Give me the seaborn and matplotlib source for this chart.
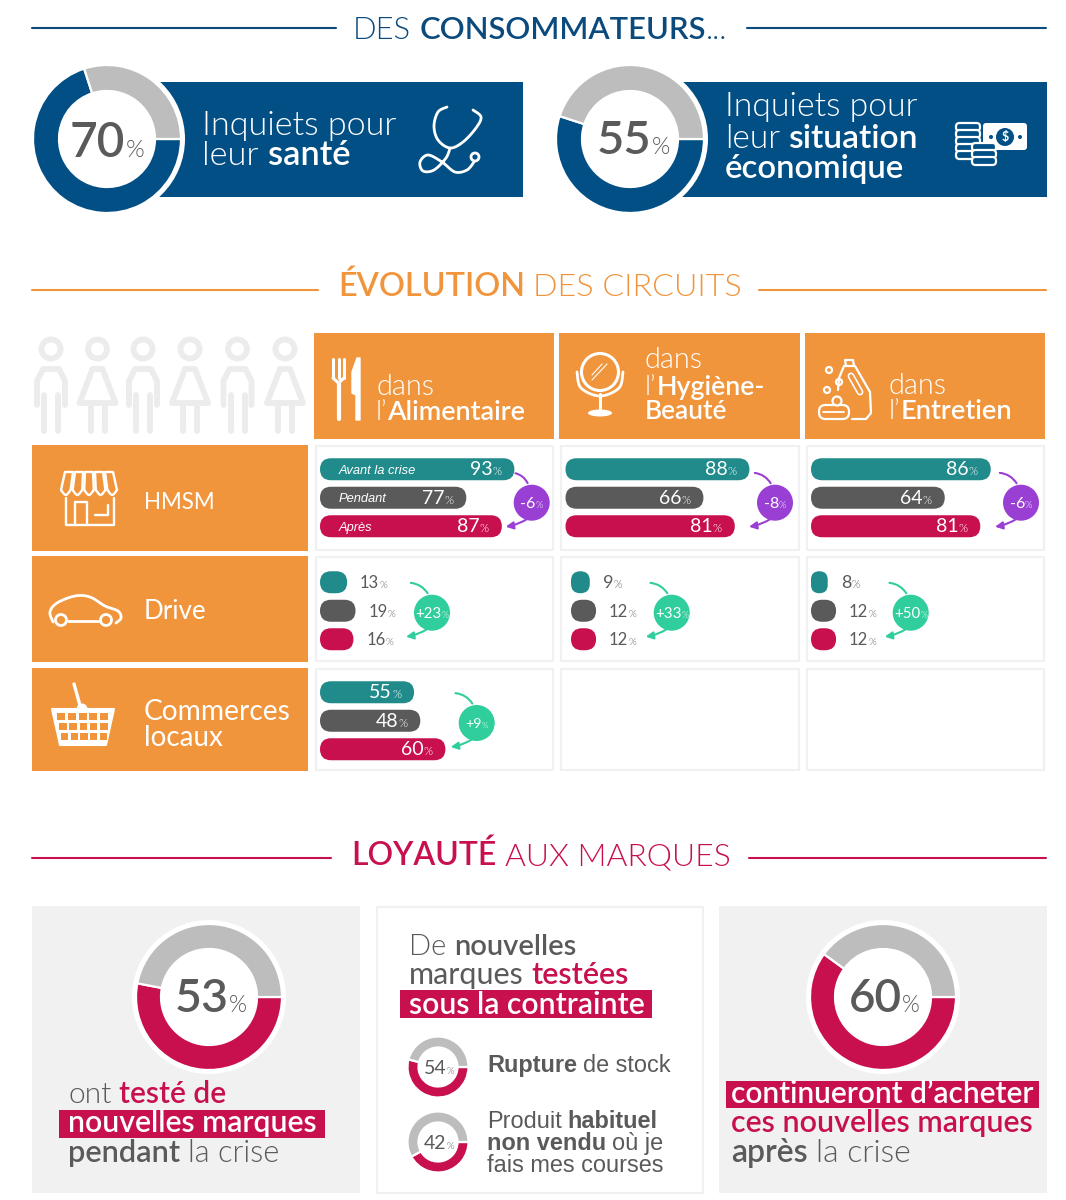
import os

import matplotlib
matplotlib.use("Agg")
import matplotlib.pyplot as plt
import numpy as np
import seaborn as sns
from matplotlib import font_manager
from matplotlib.patches import Circle, Ellipse, FancyArrowPatch, FancyBboxPatch, Polygon, Rectangle

W, H = 1066, 1200
FONT = "Lato"
ARIAL = "Liberation Sans"

BLUE = "#024f85"
TITLE_BLUE = "#0b4a7c"
ORANGE = "#f0953c"
CRIMSON = "#c8104e"
TEAL = "#218b8b"
DARK = "#5a5a5a"
GREY = "#bdbdbd"
PURPLE = "#9a3fd3"
GREEN = "#2fce9c"
PANEL = "#f1f1f1"
BORDER = "#f1f1f3"

periods = ["Avant la crise", "Pendant", "Après"]
period_colors = [TEAL, DARK, CRIMSON]

# valeurs affichees
hmsm_values = [[93, 77, 87], [88, 66, 81], [86, 64, 81]]
drive_values = [[13, 19, 16], [9, 12, 12], [8, 12, 12]]
local_values = [55, 48, 60]
# longueurs des barres (pas toujours egales au libelle)
hmsm_lengths = [[93, 70, 87], [88, 66, 81], [86, 64, 81]]
drive_lengths = [[13, 17, 16], [9, 12, 12], [8, 12, 12]]
local_lengths = [45, 48, 60]

hmsm_evolution = ["-6", "-8", "-6"]
drive_evolution = ["+23", "+33", "+50"]
local_evolution = ["+9"]

worried_health = 70
worried_money = 55
tested_brands = 53
stock_out = 54
not_sold = 42
keep_buying = 60

sns.set_theme(style="white")
plt.rcParams["font.family"] = [FONT, "DejaVu Sans"]

fig = plt.figure(figsize=(W / 100, H / 100), dpi=100, facecolor="white")


def find_face(name):
    for f in font_manager.findSystemFonts() + [e.fname for e in font_manager.fontManager.ttflist]:
        if os.path.basename(f).lower().startswith(name):
            return f
    return None


LIGHT_FACE = find_face("lato-light.")
MEDIUM_FACE = find_face("lato-semibold.") or find_face("lato-medium.")


def font_kw(weight, family, size):
    # la graisse light de matplotlib tombe sur Hairline, on passe par le fichier
    if family == FONT and weight == "light":
        if LIGHT_FACE:
            return {"fontproperties": font_manager.FontProperties(fname=LIGHT_FACE, size=size)}
        weight = "normal"
    if family == FONT and weight == "bold" and MEDIUM_FACE:
        return {"fontproperties": font_manager.FontProperties(fname=MEDIUM_FACE, size=size)}
    return {"fontsize": size, "fontweight": weight, "family": family}


def pixel_axes(zorder):
    ax = fig.add_axes([0, 0, 1, 1], zorder=zorder)
    ax.set_xlim(0, W)
    ax.set_ylim(H, 0)
    ax.axis("off")
    ax.patch.set_alpha(0)
    return ax


bg = pixel_axes(0)
fg = pixel_axes(5)
renderer = fig.canvas.get_renderer()


def text_width(txt, size, weight, family):
    t = fg.text(0, 0, txt, **font_kw(weight, family, size))
    width = t.get_window_extent(renderer).width
    t.remove()
    return width


def runs(x, y, parts, size, ha="left", fit=None, family=FONT):
    # texte a plusieurs graisses sur une meme ligne de base
    def total(s):
        out = 0
        for p in parts:
            scale = p[3] if len(p) > 3 else 1
            if p[0] == " ":
                out += s * 100 / 72 * 0.26
            else:
                out += text_width(p[0], s * scale, p[1], family)
        return out

    if fit is not None:
        size = size * fit / total(size)
    width = total(size)
    if ha == "center":
        x = x - width / 2
    elif ha == "right":
        x = x - width
    for p in parts:
        scale = p[3] if len(p) > 3 else 1
        if p[0] == " ":
            x += size * 100 / 72 * 0.26
            continue
        fg.text(x, y, p[0], color=p[2], va="baseline", ha="left", **font_kw(p[1], family, size * scale))
        x += text_width(p[0], size * scale, p[1], family)


def smooth(pts, n=14):
    # catmull-rom pour dessiner les icones
    pts = np.array(pts, dtype=float)
    p = np.vstack([pts[0], pts, pts[-1]])
    out = []
    for i in range(1, len(p) - 2):
        for t in np.linspace(0, 1, n, endpoint=False):
            out.append(0.5 * (2 * p[i] + (p[i + 1] - p[i - 1]) * t
                              + (2 * p[i - 1] - 5 * p[i] + 4 * p[i + 1] - p[i + 2]) * t ** 2
                              + (3 * p[i] - p[i - 1] - 3 * p[i + 1] + p[i + 2]) * t ** 3))
    out.append(pts[-1])
    return np.array(out)


def stroke(pts, lw=2.0, color="white", curve=True, ax=None):
    ax = ax or fg
    arr = smooth(pts) if curve else np.array(pts, dtype=float)
    ax.plot(arr[:, 0], arr[:, 1], color=color, lw=lw, solid_capstyle="round", solid_joinstyle="round")


def ring(cx, cy, r, lw=2.0, color="white", fill="none"):
    fg.add_patch(Circle((cx, cy), r, ec=color, fc=fill, lw=lw))


def section(y, x1, x2, x3, x4, parts, color, dy):
    bg.plot([32, x1], [y, y], color=color, lw=1.5)
    bg.plot([x4, 1046], [y, y], color=color, lw=1.5)
    runs(x2, y + dy, parts, 26, fit=x3 - x2)


def donut(cx, cy, r_out, r_in, value, color):
    bg.add_patch(Circle((cx, cy), r_out + 4, fc="white", ec="none"))
    pad = 1.05
    size = r_out * pad
    ax = fig.add_axes([(cx - size) / W, 1 - (cy + size) / H, 2 * size / W, 2 * size / H], zorder=2)
    # part grise posee a partir de 3 heures, le reste en couleur
    start = 3.6 * (100 - value)
    ax.pie([value, 100 - value], colors=[color, GREY], startangle=start, counterclock=True,
           radius=1, wedgeprops={"width": (r_out - r_in) / r_out, "edgecolor": "white", "linewidth": 1.6})
    ax.set_xlim(-pad, pad)
    ax.set_ylim(-pad, pad)
    ax.patch.set_alpha(0)


def rounded_bars(x0, y_top, lengths, pitch=28.5, height=22, px_per_pct=2.09):
    ax = fig.add_axes([x0 / W, 1 - (y_top + 3 * pitch) / H, 205 / W, 3 * pitch / H], zorder=2)
    sns.barplot(x=lengths, y=periods, hue=periods, palette=period_colors, orient="h", saturation=1,
                width=height / pitch, legend=False, dodge=False, ax=ax)
    ax.set_xlim(0, 205 / px_per_pct)
    ax.set_ylim(2.5, -0.5)
    ax.axis("off")
    ax.patch.set_alpha(0)
    aspect = (1 / pitch) * px_per_pct
    for bar in list(ax.patches):
        x, y = bar.get_xy()
        w, h = bar.get_width(), bar.get_height()
        col = bar.get_facecolor()
        rnd = min(height / 2 / px_per_pct, w / 2)
        bar.remove()
        ax.add_patch(FancyBboxPatch((x, y), w, h, boxstyle=f"round,pad=0,rounding_size={rnd}",
                                    mutation_aspect=aspect, fc=col, ec="none", clip_on=False))
    return [(x0 + v * px_per_pct, y_top + pitch * (i + 0.5)) for i, v in enumerate(lengths)]


def pct(value, color, scale=0.6):
    return [(str(value), "normal", color), ("%", "light", color, scale)]


def big_pct(value):
    return [(str(value), "bold", DARK), ("%", "light", DARK, 0.5)]


def evolution(cx, cy, label, color, dx_start=-24):
    start = (cx + dx_start, cy - 30)
    bg.add_patch(FancyArrowPatch(start, (cx - 3, cy - 17), arrowstyle="-", color=color, lw=1.5,
                                 connectionstyle="arc3,rad=-0.3"))
    bg.add_patch(FancyArrowPatch((cx - 4, cy + 16), (cx - 26, cy + 24), arrowstyle="-|>", color=color,
                                 lw=1.5, mutation_scale=11, shrinkA=0, shrinkB=0,
                                 connectionstyle="arc3,rad=-0.1"))
    bg.add_patch(Circle((cx, cy), 18, fc=color, ec="none", zorder=3))
    runs(cx, cy + 5, pct(label, "white"), 11.5, ha="center", fit=33 if len(label) == 3 else 23)


# ---- section 1
section(28, 336, 353, 728, 747, [("DES", "light", TITLE_BLUE), (" ", "", ""), ("CONSOMMATEURS", "bold", TITLE_BLUE),
                                 ("...", "light", TITLE_BLUE)], TITLE_BLUE, 11)
bg.add_patch(Rectangle((157, 82), 366, 115, fc=BLUE, ec="none"))
bg.add_patch(Rectangle((680, 82), 367, 115, fc=BLUE, ec="none"))
donut(107, 139, 74, 48, worried_health, BLUE)
donut(630, 139, 74, 48, worried_money, BLUE)
runs(70, 157, big_pct(worried_health), 39, fit=74)
runs(597, 154, big_pct(worried_money), 39, fit=73)

runs(202, 135, [("Inquiets pour", "light", "white")], 25, fit=195)
runs(202, 165, [("leur", "light", "white"), (" ", "", ""), ("santé", "bold", "white")], 25, fit=148)
runs(725, 116, [("Inquiets pour", "light", "white")], 25, fit=193)
runs(725, 148, [("leur", "light", "white"), (" ", "", ""), ("situation", "bold", "white")], 25, fit=193)
runs(725, 178, [("économique", "bold", "white")], 25, fit=179)

# stethoscope
stroke([(447, 107), (438, 112), (434, 126), (438, 140), (450, 148), (463, 142), (476, 128), (481, 117), (473, 110)])
stroke([(450, 148), (446, 158), (434, 170), (423, 171), (420, 162), (428, 155), (442, 162), (455, 172), (467, 170), (474, 162)])
ring(475, 157, 4)

# billets et pieces
fg.add_patch(FancyBboxPatch((983, 123), 44, 27, boxstyle="round,pad=0,rounding_size=3", fc="white", ec="none"))
fg.add_patch(Circle((1005, 137), 9, fc=BLUE, ec="none"))
fg.text(1005, 137.5, "$", color="white", fontsize=9, fontweight="bold", ha="center", va="center")
fg.add_patch(Circle((991, 137), 2, fc=BLUE, ec="none"))
fg.add_patch(Circle((1020, 137), 2, fc=BLUE, ec="none"))
for cx, top, n in [(968, 123, 5), (984, 143, 3)]:
    for i in range(n):
        fg.add_patch(FancyBboxPatch((cx - 12, top + i * 7), 24, 8, boxstyle="round,pad=0,rounding_size=3.5",
                                    fc=BLUE, ec="white", lw=1.6))

# ---- section 2
section(290, 318, 338, 743, 759, [("ÉVOLUTION", "bold", ORANGE), (" ", "", ""), ("DES CIRCUITS", "light", ORANGE)], ORANGE, 6)

# silhouettes
GREY_FIG = "#ececec"
for i, c in enumerate([51, 97.5, 143, 190, 237.5, 285]):
    ring(c, 349, 9.5, lw=4.2, color=GREY_FIG)
    if i % 2 == 0:
        stroke([(c - 14, 405), (c - 14, 381), (c - 8, 369), (c + 8, 369), (c + 14, 381), (c + 14, 405)], lw=4.2,
               color=GREY_FIG, curve=False)
        stroke([(c - 7, 395), (c - 7, 431)], lw=4.2, color=GREY_FIG, curve=False)
        stroke([(c + 7, 395), (c + 7, 431)], lw=4.2, color=GREY_FIG, curve=False)
    else:
        stroke([(c - 5, 369), (c + 5, 369), (c + 18, 403), (c - 18, 403), (c - 5, 369)], lw=4.2, color=GREY_FIG,
               curve=False)
        stroke([(c - 7, 405), (c - 7, 431)], lw=4.2, color=GREY_FIG, curve=False)
        stroke([(c + 7, 405), (c + 7, 431)], lw=4.2, color=GREY_FIG, curve=False)

col_x = [(314, 554), (559, 800), (805, 1045)]
row_y = [(445, 551), (556, 662), (668, 771)]
for x1, x2 in col_x:
    bg.add_patch(Rectangle((x1, 333), x2 - x1, 106, fc=ORANGE, ec="none"))
for y1, y2 in row_y:
    bg.add_patch(Rectangle((32, y1), 276, y2 - y1, fc=ORANGE, ec="none"))
for x1, x2 in col_x:
    for y1, y2 in row_y:
        bg.add_patch(Rectangle((x1 + 1.5, y1 + 0.5), x2 - x1 - 2.5, y2 - y1 - 1.5, fc="white", ec=BORDER, lw=1.5))

runs(376, 395, [("dans", "light", "white")], 20, fit=58)
runs(376, 420, [("l’", "light", "white"), ("Alimentaire", "bold", "white")], 20, fit=150)
runs(645, 368, [("dans", "light", "white")], 20, fit=58)
runs(645, 395, [("l’", "light", "white"), ("Hygiène-", "bold", "white")], 20, fit=120)
runs(645, 419, [("Beauté", "bold", "white")], 20, fit=82)
runs(889, 394, [("dans", "light", "white")], 20, fit=58)
runs(889, 419, [("l’", "light", "white"), ("Entretien", "bold", "white")], 20, fit=124)

runs(144, 509, [("HMSM", "normal", "white")], 20, fit=71)
runs(144, 619, [("Drive", "normal", "white")], 20, fit=63)
runs(144, 720, [("Commerces", "normal", "white")], 20, fit=147)
runs(144, 746, [("locaux", "normal", "white")], 20, fit=79)

# couverts
for fx in [333, 338.5, 344]:
    stroke([(fx, 359), (fx, 378)], lw=2.2, curve=False)
stroke([(333, 378), (338.5, 383), (344, 378)], lw=2.2, curve=False)
stroke([(338.5, 383), (338.5, 419)], lw=3, curve=False)
fg.add_patch(Polygon([(357, 358), (360, 358), (360, 420), (356, 420), (356, 395), (352, 393), (352, 372)], fc="white", ec="white", lw=1, joinstyle="round"))

# miroir
ring(600, 372, 18.5, lw=2.2)
stroke([(577, 372), (581, 388), (600, 396), (619, 388), (623, 372)], lw=2)
stroke([(600, 394), (600, 410)], lw=2.2, curve=False)
fg.add_patch(Ellipse((600, 413), 24, 7, fc="white", ec="none"))
stroke([(592, 375), (602, 364)], lw=0.8, curve=False)
stroke([(592, 380), (607, 364)], lw=0.8, curve=False)

# bidon et savon
stroke([(846, 366), (845, 360), (853, 360), (854, 366)], lw=1.6, curve=False)
stroke([(844, 366), (855, 366), (870, 392), (871, 413), (866, 419), (852, 419)], lw=1.6, curve=False)
stroke([(844, 366), (839, 378), (838, 390)], lw=1.6, curve=False)
stroke([(851, 376), (860, 392)], lw=5, curve=False)
stroke([(851, 376), (860, 392)], lw=2.6, curve=False, color=ORANGE)
fg.add_patch(FancyBboxPatch((819, 405), 30, 14, boxstyle="round,pad=0,rounding_size=6.5", fc=ORANGE, ec="white", lw=1.6))
ring(837, 401, 4.5, lw=1.6, fill=ORANGE)
ring(829, 370, 3, lw=1.6)
ring(839, 382, 3, lw=1.6)
ring(827, 390, 3, lw=1.6)
stroke([(823, 412), (844, 412)], lw=1.3, curve=False)

# magasin, auvent evase
for i in range(5):
    tl, tr = 65 + i * 10, 65 + (i + 1) * 10 - 2
    bl, br = 61 + i * 11.6, 61 + (i + 1) * 11.6 - 2
    stroke([(bl, 490), (tl, 472), (tr, 472), (br, 490)], lw=1.7, curve=False)
    stroke([(bl, 490), ((bl + br) / 2, 495), (br, 490)], lw=1.7)
stroke([(66, 498), (66, 525), (114, 525), (114, 498)], lw=1.7, curve=False)
stroke([(75, 525), (75, 502), (87, 502), (87, 525)], lw=1.7, curve=False)
stroke([(95, 515), (108, 515), (108, 505)], lw=1.7, curve=False)

# voiture
stroke([(53, 622), (50, 612), (57, 603), (75, 596), (90, 597), (105, 606), (118, 611), (121, 618), (116, 623)], lw=2)
stroke([(68, 621), (99, 621)], lw=2, curve=False)
ring(61, 620, 5.5, lw=2)
ring(106, 620, 5.5, lw=2)

# panier
stroke([(74, 684), (81, 709)], lw=2.4, curve=False)
fg.add_patch(Circle((82, 709), 5.5, fc="white", ec="none"))
fg.add_patch(Polygon([(52, 709), (114, 709), (106, 745), (60, 745)], fc="white", ec="white", lw=1.5, joinstyle="round"))
for r, yy in enumerate([713, 723, 733]):
    for k in range(5):
        left = 57 + r * 2 + k * (10.8 - r * 0.55)
        fg.add_patch(Rectangle((left, yy), 8 - r * 0.4, 7, fc=ORANGE, ec="none"))

# barres
hmsm_x = [320, 565.5, 811]
drive_x = [320, 571, 811]
hmsm_circles = [(531.7, 502.7, -19), (775, 502.7, -23), (1021, 502.7, -24)]
drive_circles = [(432, 612.7, -24), (671.7, 612.7, -24), (910.7, 612.7, -24)]

for c in range(3):
    ends = rounded_bars(hmsm_x[c], 455, hmsm_lengths[c])
    for (ex, ey), v in zip(ends, hmsm_values[c]):
        runs(ex - 13, ey + 6, pct(v, "white"), 14, ha="right")
    cx, cy, dx = hmsm_circles[c]
    evolution(cx, cy, hmsm_evolution[c], PURPLE, dx)

    ends = rounded_bars(drive_x[c], 568, drive_lengths[c])
    for (ex, ey), v in zip(ends, drive_values[c]):
        runs(ex + 13, ey + 6, pct(v, DARK), 14, fit=27 if v >= 10 else 19)
    cx, cy, dx = drive_circles[c]
    evolution(cx, cy, drive_evolution[c], GREEN, dx)

ends = rounded_bars(320, 678, local_lengths)
for (ex, ey), v in zip(ends, local_values):
    runs(ex - 13, ey + 6, pct(v, "white"), 14, ha="right")
evolution(476.7, 723, local_evolution[0], GREEN)

for i, name in enumerate(periods):
    fg.text(339, 473.5 + i * 28.5, name, color="white", fontsize=9.3, style="italic", family=ARIAL, va="baseline")

# ---- section 3
section(858, 331, 351, 730, 749, [("LOYAUTÉ", "bold", CRIMSON), (" ", "", ""), ("AUX MARQUES", "light", CRIMSON)], CRIMSON, 7)
bg.add_patch(Rectangle((32, 906), 328, 287, fc=PANEL, ec="none"))
bg.add_patch(Rectangle((376.5, 906.5), 326, 286, fc="white", ec=BORDER, lw=1.5))
bg.add_patch(Rectangle((719, 906), 328, 287, fc=PANEL, ec="none"))

donut(209, 997, 73, 48, tested_brands, CRIMSON)
donut(883, 997, 73, 48, keep_buying, CRIMSON)
donut(438, 1067, 30.5, 19.5, stock_out, CRIMSON)
donut(438, 1142, 30.5, 19.5, not_sold, CRIMSON)
runs(175, 1012, big_pct(tested_brands), 39, fit=72)
runs(849, 1012, big_pct(keep_buying), 39, fit=71)
runs(424, 1074, [(str(stock_out), "normal", DARK), ("%", "light", DARK, 0.5)], 16, fit=30)
runs(424, 1149, [(str(not_sold), "normal", DARK), ("%", "light", DARK, 0.5)], 16, fit=30)

bg.add_patch(Rectangle((59, 1110), 266, 28, fc=CRIMSON, ec="none"))
runs(68, 1103, [("ont", "light", DARK), (" ", "", ""), ("testé de", "bold", CRIMSON)], 20, fit=159)
runs(68, 1132, [("nouvelles marques", "bold", "white")], 20, fit=248)
runs(68, 1162, [("pendant", "bold", DARK), (" ", "", ""), ("la crise", "light", DARK)], 20, fit=212)

bg.add_patch(Rectangle((400, 990), 252, 28, fc=CRIMSON, ec="none"))
runs(409, 955, [("De", "light", DARK), (" ", "", ""), ("nouvelles", "bold", DARK)], 20, fit=167)
runs(409, 984, [("marques", "normal", DARK), (" ", "", ""), ("testées", "bold", CRIMSON)], 20, fit=221)
runs(409, 1014, [("sous la contrainte", "bold", "white")], 20, fit=235)

runs(487, 1072, [("Rupture", "bold", DARK), (" ", "", ""), ("de stock", "normal", DARK)], 17, fit=184, family=ARIAL)
runs(487, 1128, [("Produit", "normal", DARK), (" ", "", ""), ("habituel", "bold", DARK)], 17, fit=171, family=ARIAL)
runs(487, 1150, [("non vendu", "bold", DARK), (" ", "", ""), ("où je", "normal", DARK)], 17, fit=176, family=ARIAL)
runs(487, 1172, [("fais mes courses", "normal", DARK)], 17, fit=176, family=ARIAL)

bg.add_patch(Rectangle((726, 1081), 313, 27, fc=CRIMSON, ec="none"))
runs(731, 1103, [("continueront d’acheter", "bold", "white")], 20, fit=302)
runs(731, 1132, [("ces nouvelles marques", "bold", CRIMSON)], 20, fit=302)
runs(731, 1162, [("après", "bold", DARK), (" ", "", ""), ("la crise", "light", DARK)], 20, fit=180)

fig.savefig("out.png", dpi=100)
